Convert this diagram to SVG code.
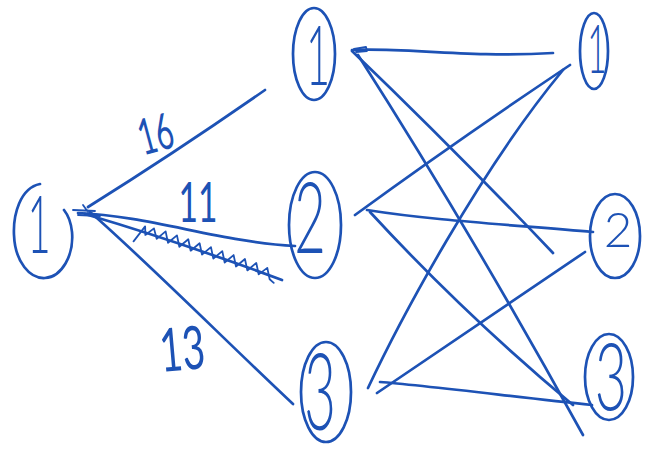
<svg xmlns="http://www.w3.org/2000/svg" width="645" height="458" viewBox="0 0 645 458">
<style>
.ink{fill:none;stroke:#1d52b5;stroke-width:2.7;stroke-linecap:round;stroke-linejoin:round}
.thin{stroke-width:1.8}
.dg{font-family:Lato,"DejaVu Sans",sans-serif;font-weight:300;fill:#1d52b5;text-anchor:middle}
.lb{font-family:Lato,"DejaVu Sans",sans-serif;font-weight:400;fill:#1d52b5;text-anchor:middle}
</style>
<rect width="645" height="458" fill="#ffffff"/>
<g id="connectors">
  <path class="ink" d="M88,207 Q176,152 265,90"/>
  <path class="ink" d="M78,213 C150,216 220,242 295,246"/>
  <path class="ink" d="M85,214 Q180,242 282,280"/>
  <path class="ink" d="M90,212 C140,255 230,345 293,404"/>
  <path class="ink thin" d="M73,210 L95,211 M83,205 L88,212 M78,215 L100,216"/>
  <polyline class="ink thin" transform="translate(140,232) rotate(19.2)" points="-3,11 3,-7 6,1 12,-8 18,1 24,-9 30,1 36,-9 42,1 48,-9 54,1 60,-9 66,1 72,-9 78,1 84,-9 90,1 96,-9 102,1 108,-9 114,1 120,-9 126,1 132,-8 138,2 143,4"/>
  <path class="ink" d="M352,50 C400,47 470,58 553,53"/>
  <path class="ink thin" d="M354,49 L366,47 L367,51 L356,52"/>
  <path class="ink" d="M352,51 Q455,150 553,253"/>
  <path class="ink" d="M358,55 Q470,230 583,435"/>
  <path class="ink" d="M355,215 Q455,142 570,65"/>
  <path class="ink" d="M367,210 C430,220 500,224 593,232"/>
  <path class="ink" d="M370,212 Q465,315 573,405"/>
  <path class="ink" d="M368,388 C400,320 480,170 563,70"/>
  <path class="ink" d="M377,393 Q470,330 585,252"/>
  <path class="ink" d="M380,382 C420,385 500,395 592,405"/>
</g>
<g id="label-16"><text class="lb" font-size="50" transform="translate(160,151) rotate(-15) scale(0.6,1)">16</text></g>
<g id="label-11"><text class="lb" font-size="56" transform="translate(198,222) scale(0.6,1)">11</text></g>
<g id="label-13"><text class="lb" font-size="60" transform="translate(184,370) rotate(-5) scale(0.65,1)">13</text></g>
<g id="node-left-1">
  <path class="ink" d="M40,184 C20,188 13,215 14,235 C15,262 30,279 45,278 C62,277 74,255 72,232 C71,222 68,215 64,210"/>
  <text class="dg" font-size="80" transform="translate(39,253) scale(0.5,1)">1</text>
</g>
<g id="node-mid-1">
  <ellipse class="ink" cx="314" cy="54" rx="21" ry="46"/>
  <text class="dg" font-size="83" transform="translate(318,85) scale(0.5,1)">1</text>
</g>
<g id="node-mid-2">
  <ellipse class="ink" cx="315" cy="225" rx="26" ry="53"/>
  <text class="dg" font-size="99" transform="translate(310,253) scale(0.55,1)">2</text>
</g>
<g id="node-mid-3">
  <ellipse class="ink" cx="326" cy="392" rx="25" ry="50"/>
  <text class="dg" font-size="107" transform="translate(320,430) scale(0.51,1)">3</text>
</g>
<g id="node-right-1">
  <ellipse class="ink" cx="594" cy="51" rx="14" ry="38"/>
  <text class="dg" font-size="67" transform="translate(597,73) scale(0.5,1)">1</text>
</g>
<g id="node-right-2">
  <ellipse class="ink" cx="615" cy="236" rx="25" ry="42"/>
  <text class="dg" font-size="47" transform="translate(618,247) scale(1.05,1)">2</text>
</g>
<g id="node-right-3">
  <ellipse class="ink" cx="609" cy="377" rx="24" ry="43"/>
  <text class="dg" font-size="93" transform="translate(611,410) scale(0.6,1)">3</text>
</g>
</svg>
